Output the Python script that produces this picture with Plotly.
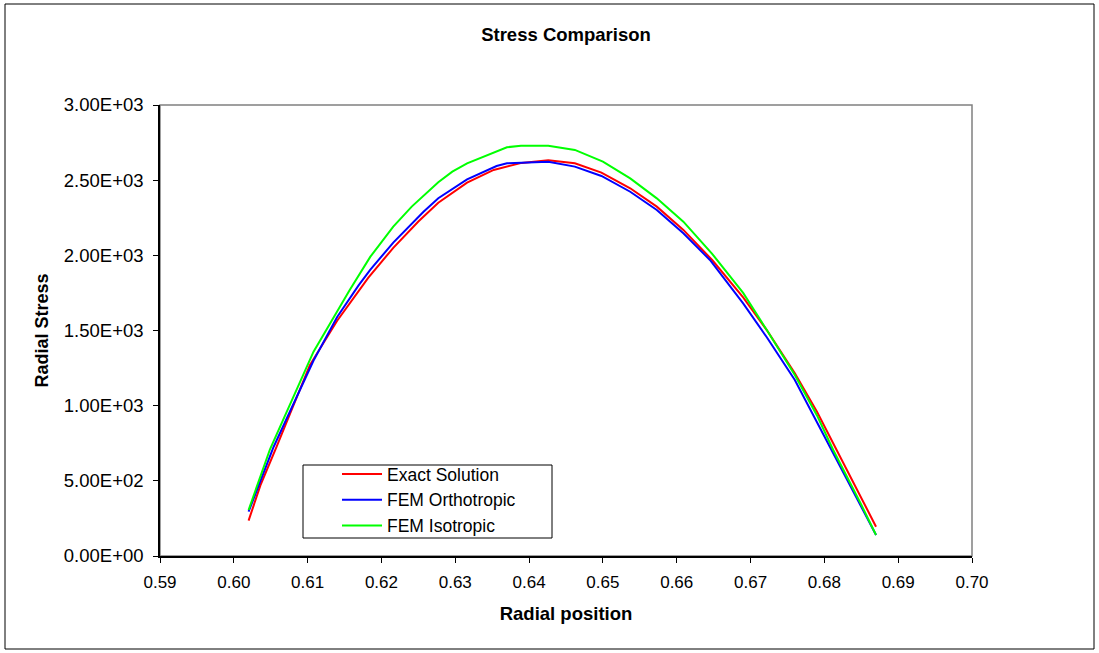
import plotly.graph_objects as go

# ---- data ----
x_exact = [0.6020, 0.6036, 0.6058, 0.6103, 0.6140, 0.6182, 0.6216, 0.6250, 0.6277,
           0.6316, 0.6352, 0.6390, 0.6426, 0.6462, 0.6498, 0.6537, 0.6573, 0.6609,
           0.6648, 0.6690, 0.6722, 0.6760, 0.6790, 0.6817, 0.6853, 0.6870]
y_exact = [235, 470, 727, 1270, 1565, 1850, 2050, 2225, 2350,
           2483, 2568, 2615, 2632, 2612, 2550, 2446, 2324, 2169,
           1969, 1720, 1503, 1215, 960, 705, 365, 195]

x_ortho = [0.6020, 0.6054, 0.6108, 0.6140, 0.6169, 0.6185, 0.6216, 0.6257, 0.6277,
           0.6316, 0.6356, 0.6370, 0.6426, 0.6462, 0.6498, 0.6537, 0.6573, 0.6609,
           0.6645, 0.6690, 0.6722, 0.6760, 0.6790, 0.6810, 0.6849, 0.6870]
y_ortho = [295, 727, 1300, 1590, 1800, 1905, 2085, 2290, 2380,
           2505, 2594, 2612, 2623, 2590, 2528, 2423, 2302, 2147,
           1969, 1680, 1455, 1171, 890, 705, 345, 140]

x_iso = [0.6020, 0.6049, 0.6108, 0.6157, 0.6185, 0.6216, 0.6241, 0.6277, 0.6296,
         0.6316, 0.6370, 0.6389, 0.6426, 0.6462, 0.6500, 0.6537, 0.6573, 0.6609,
         0.6648, 0.6690, 0.6722, 0.6760, 0.6790, 0.6812, 0.6849, 0.6870]
y_iso = [306, 710, 1359, 1769, 1991, 2191, 2324, 2486, 2557,
         2612, 2719, 2729, 2729, 2701, 2623, 2512, 2379, 2224,
         2010, 1750, 1503, 1204, 935, 705, 351, 140]

series_names = ["Exact Solution", "FEM Orthotropic", "FEM Isotropic"]
series_colors = ["#FF0000", "#0000FF", "#00FF00"]

x_ticks = [0.59, 0.60, 0.61, 0.62, 0.63, 0.64, 0.65, 0.66, 0.67, 0.68, 0.69, 0.70]
y_ticks = [0, 500, 1000, 1500, 2000, 2500, 3000]
y_tick_text = [f"{v:.2E}" for v in y_ticks]

FONT = "Liberation Sans, Arial, sans-serif"

fig = go.Figure()
for xs, ys, name, col in zip([x_exact, x_ortho, x_iso], [y_exact, y_ortho, y_iso],
                             series_names, series_colors):
    fig.add_trace(go.Scatter(x=xs, y=ys, mode="lines", name=name,
                             line=dict(color=col, width=2)))

W, H = 1099, 653
L, R, T, B = 160, 127, 105, 97
pw, ph = W - L - R, H - T - B

def px_x(p):
    return (p - L) / pw

def px_y(p):
    return (H - B - p) / ph

shapes = [
    # plot-area border (grey)
    dict(type="rect", xref="paper", yref="paper", x0=0, y0=0, x1=1, y1=1,
         line=dict(color="#808080", width=1.5), layer="below"),
    # outer chart border
    dict(type="rect", xref="paper", yref="paper",
         x0=px_x(5), x1=px_x(1094), y0=px_y(649), y1=px_y(4),
         line=dict(color="black", width=1)),
    # legend frame
    dict(type="rect", xref="paper", yref="paper",
         x0=px_x(303), x1=px_x(552), y0=px_y(538), y1=px_y(465),
         line=dict(color="black", width=1), fillcolor="white", layer="below"),
]

fig.update_layout(
    width=W, height=H,
    margin=dict(l=L, r=R, t=T, b=B, pad=0),
    paper_bgcolor="white", plot_bgcolor="white",
    font=dict(family=FONT, color="black", size=17),
    title=dict(text="<b>Stress Comparison</b>", x=0.5, xref="paper", xanchor="center",
               y=1 - 35 / H, yref="container", yanchor="middle",
               font=dict(size=18.5, family=FONT, color="black")),
    showlegend=True,
    legend=dict(x=px_x(337), y=px_y(456), xanchor="left", yanchor="top",
                bgcolor="rgba(0,0,0,0)", borderwidth=0,
                font=dict(size=17.5, family=FONT), tracegroupgap=0,
                itemwidth=40),
    shapes=shapes,
)

fig.update_xaxes(range=[0.59, 0.70], tickvals=x_ticks, tickformat=".2f",
                 showgrid=False, zeroline=False, showline=True, linecolor="black",
                 linewidth=1.5, ticks="outside", ticklen=5, tickcolor="black",
                 tickfont=dict(size=17), ticklabelstandoff=5,
                 title=dict(text="<b>Radial position</b>", font=dict(size=18.5), standoff=16))
fig.update_yaxes(range=[0, 3000], tickvals=y_ticks, ticktext=y_tick_text,
                 showgrid=False, zeroline=False, showline=True, linecolor="black",
                 linewidth=1.5, ticks="outside", ticklen=5, tickcolor="black",
                 tickfont=dict(size=18.5), ticklabelstandoff=6,
                 title=dict(text="<b>Radial Stress</b>", font=dict(size=18), standoff=11))

fig.write_html("out.html")
